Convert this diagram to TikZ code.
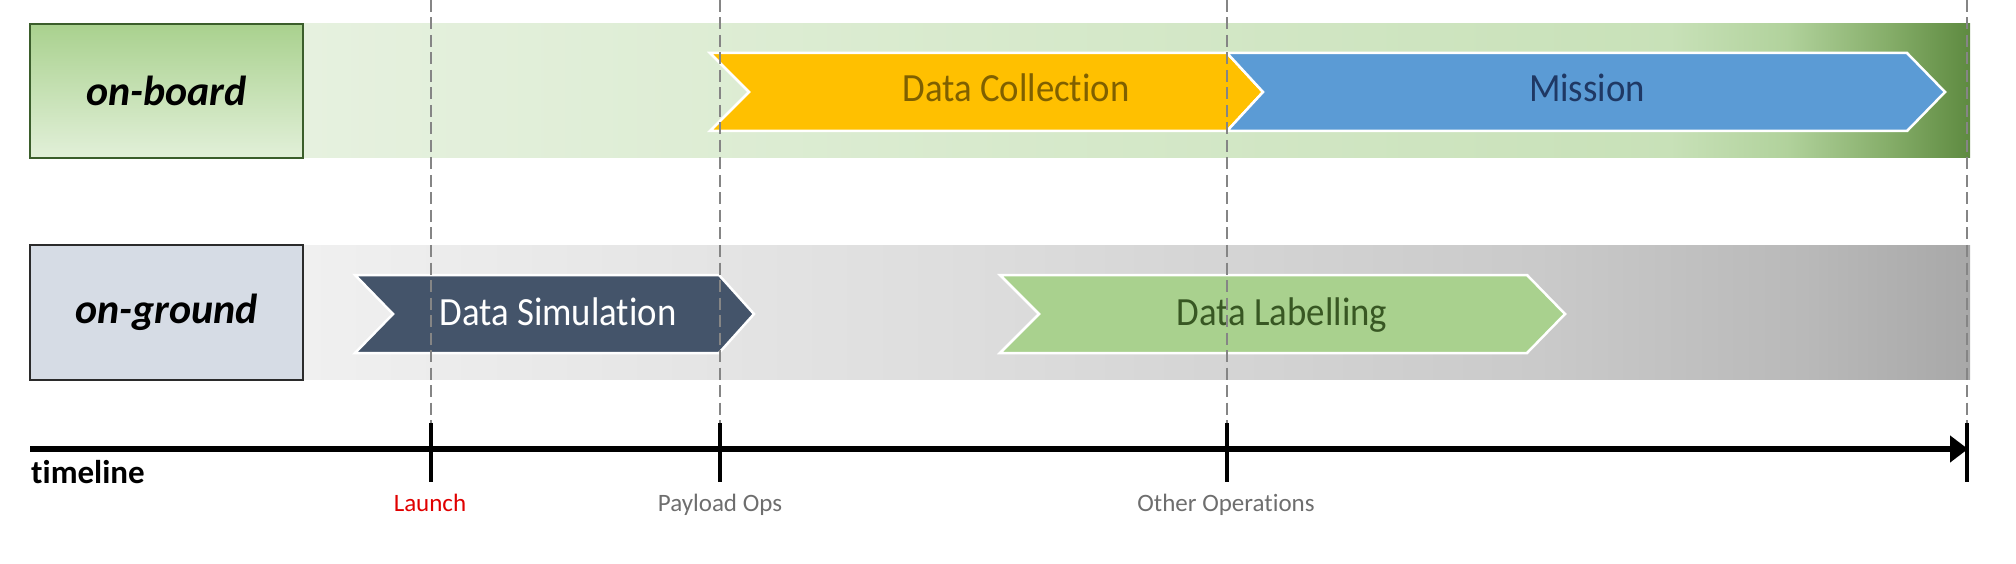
\documentclass[tikz,border=0pt]{standalone}
\usepackage{fontspec}
\setmainfont{Carlito}[Ligatures={NoCommon}]
\newfontfamily\chevfont[FakeStretch=0.92, Ligatures={NoCommon}]{Carlito}
\usetikzlibrary{arrows.meta}
\definecolor{gA}{HTML}{E6F1DF}
\definecolor{gB}{HTML}{D8EACD}
\definecolor{gC}{HTML}{C8E1B8}
\definecolor{gD}{HTML}{B1D29C}
\definecolor{gE}{HTML}{86AE6A}
\definecolor{gF}{HTML}{5E8A40}
\definecolor{sA}{HTML}{F0F0F0}
\definecolor{sB}{HTML}{DDDDDD}
\definecolor{sC}{HTML}{CACACA}
\definecolor{sD}{HTML}{B9B9B9}
\definecolor{sE}{HTML}{A8A8A8}
\definecolor{obTop}{HTML}{A9D18E}
\definecolor{obBot}{HTML}{E2F0D9}
\definecolor{obEdge}{HTML}{3B5E2B}
\definecolor{ogFill}{HTML}{D6DCE5}
\definecolor{ogEdge}{HTML}{2B2B2B}
\definecolor{collFill}{HTML}{FFC000}
\definecolor{collText}{HTML}{7F6000}
\definecolor{missFill}{HTML}{5B9BD5}
\definecolor{missText}{HTML}{1F3864}
\definecolor{simFill}{HTML}{44546A}
\definecolor{labFill}{HTML}{A9D18E}
\definecolor{labText}{HTML}{385723}
\definecolor{dashGray}{HTML}{858585}
\definecolor{launchRed}{HTML}{E00000}
\definecolor{opsGray}{HTML}{6E6E6E}
\pgfdeclarehorizontalshading{greenband}{100bp}{color(0bp)=(gA); color(25bp)=(gA); color(45bp)=(gB); color(66bp)=(gC); color(69.5bp)=(gD); color(72.5bp)=(gE); color(75bp)=(gF); color(100bp)=(gF)}
\pgfdeclarehorizontalshading{grayband}{100bp}{color(0bp)=(sA); color(25bp)=(sA); color(45bp)=(sB); color(62bp)=(sC); color(70bp)=(sD); color(75bp)=(sE); color(100bp)=(sE)}
\tikzset{
  lanebox/.style={draw, line width=2pt, minimum width=273pt, minimum height=134pt, inner sep=0pt,
    font=\fontsize{42}{48}\selectfont\bfseries\itshape},
  chevron/.style={draw=white, line width=2.5pt, line join=miter},
  chevtext/.style={anchor=base, inner sep=0pt, font=\chevfont\fontsize{40}{48}\selectfont},
  guide/.style={draw=dashGray, line width=1.8pt, dash pattern=on 12pt off 5.5pt},
  tick/.style={draw=black, line width=4pt},
  ticklabel/.style={anchor=base, inner sep=0pt, font=\fontsize{25}{30}\selectfont},
}
\begin{document}
\begin{tikzpicture}[x=1pt, y=-1pt]
\useasboundingbox (0,0) rectangle (2016,564);
% lanes
\path[shading=greenband] (303,24) rectangle (1970,158);
\path[shading=grayband] (303,246) rectangle (1970,379);
\node[lanebox, draw=obEdge, top color=obTop, bottom color=obBot] (onboard) at (166.5,91) {on-board};
\node[lanebox, draw=ogEdge, fill=ogFill] (onground) at (166.5,312.5) {on-ground};
% chevrons
\path[chevron, fill=collFill] (710,53) -- (1227,53) -- (1263,92) -- (1227,131) -- (710,131) -- (749,92) -- cycle;
\path[chevron, fill=missFill] (1227,53) -- (1907,53) -- (1945,92) -- (1907,131) -- (1227,131) -- (1263,92) -- cycle;
\path[chevron, fill=simFill] (355,275) -- (719,275) -- (754,314) -- (719,353) -- (355,353) -- (393,314) -- cycle;
\path[chevron, fill=labFill] (1000,275) -- (1527,275) -- (1565,314) -- (1527,353) -- (1000,353) -- (1039,314) -- cycle;
\node[chevtext, text=collText] (collection) at (1016,101.5) {Data Collection};
\node[chevtext, text=missText] (mission) at (1587,101.5) {Mission};
\node[chevtext, text=white] (simulation) at (558,325) {Data Simulation};
\node[chevtext, text=labText] (labelling) at (1282,325.5) {Data Labelling};
% guides and ticks
\foreach \n/\x in {launch/431, payload/720, other/1227, last/1967}{
  \coordinate (\n-top) at (\x,0);
  \coordinate (\n-tickA) at (\x,423);
  \coordinate (\n-tickB) at (\x,482);
  \draw[guide] (\n-top) -- (\n-tickA);
  \draw[tick] (\n-tickA) -- (\n-tickB);
}
% timeline
\coordinate (tlstart) at (30,449);
\coordinate (tlend) at (1968,449);
\draw[line width=6pt, -{Triangle[length=18pt, width=26pt]}] (tlstart) -- (tlend);
\node[anchor=base west, inner sep=0pt, font=\fontsize{33}{40}\selectfont\bfseries] (timeline) at (31,483) {timeline};
\node[ticklabel, text=launchRed] (launchlbl) at (430,511) {Launch};
\node[ticklabel, text=opsGray] (payloadlbl) at (720,511) {Payload Ops};
\node[ticklabel, text=opsGray] (otherlbl) at (1226,511) {Other Operations};
\end{tikzpicture}
\end{document}
